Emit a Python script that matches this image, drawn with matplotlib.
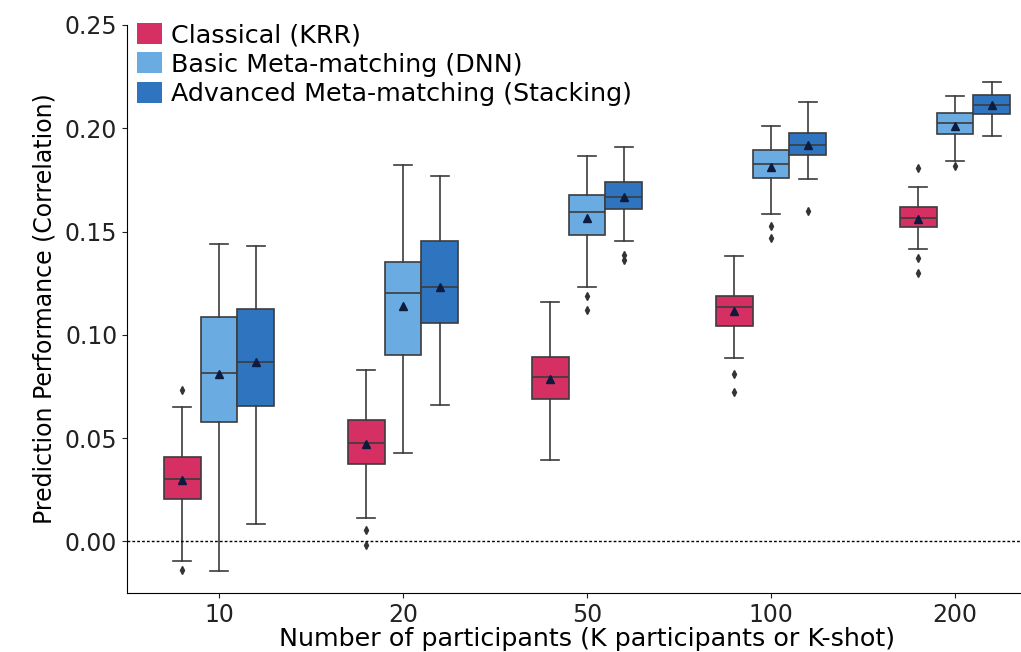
import numpy as np
import matplotlib
matplotlib.use("Agg")
import matplotlib.pyplot as plt
from matplotlib.patches import Patch

# x groups
groups = ["10", "20", "50", "100", "200"]
methods = ["Classical (KRR)", "Basic Meta-matching (DNN)", "Advanced Meta-matching (Stacking)"]
colors = ["#d52f63", "#6aabe2", "#2f74bf"]

# box stats: [whislo, q1, med, q3, whishi], mean, fliers
krr_stats = [[-0.0097, 0.0205, 0.0300, 0.0407, 0.0649],
             [0.0111, 0.0376, 0.0475, 0.0586, 0.0828],
             [0.0396, 0.0691, 0.0796, 0.0891, 0.1157],
             [0.0888, 0.1042, 0.1135, 0.1190, 0.1381],
             [0.1413, 0.1521, 0.1565, 0.1617, 0.1717]]
krr_mean = [0.0296, 0.0473, 0.0786, 0.1116, 0.1563]
krr_fliers = [[0.0732, -0.0141], [0.0053, -0.0019], [], [0.0812, 0.0723], [0.1806, 0.1373, 0.1300]]

dnn_stats = [[-0.0142, 0.0577, 0.0817, 0.1084, 0.1442],
             [0.0430, 0.0900, 0.1203, 0.1353, 0.1822],
             [0.1231, 0.1481, 0.1596, 0.1675, 0.1864],
             [0.1586, 0.1757, 0.1825, 0.1893, 0.2012],
             [0.1841, 0.1973, 0.2027, 0.2072, 0.2156]]
dnn_mean = [0.0809, 0.1139, 0.1566, 0.1813, 0.2011]
dnn_fliers = [[], [], [0.1190, 0.1122], [0.1528, 0.1471], [0.1817]]

stack_stats = [[0.0084, 0.0654, 0.0866, 0.1126, 0.1431],
               [0.0659, 0.1058, 0.1232, 0.1455, 0.1770],
               [0.1456, 0.1610, 0.1668, 0.1741, 0.1907],
               [0.1752, 0.1872, 0.1920, 0.1978, 0.2128],
               [0.1961, 0.2069, 0.2112, 0.2161, 0.2225]]
stack_mean = [0.0866, 0.1231, 0.1668, 0.1919, 0.2112]
stack_fliers = [[], [], [0.1386, 0.1361], [0.1599], []]

all_stats = [krr_stats, dnn_stats, stack_stats]
all_means = [krr_mean, dnn_mean, stack_mean]
all_fliers = [krr_fliers, dnn_fliers, stack_fliers]

fig = plt.figure(figsize=(10.21, 6.52), dpi=100)
# axes runs a little past the right edge of the figure, as in the cropped original
ax = fig.add_axes([0.1244, 0.0905, 0.901, 0.8712])

edge = "#3c3c3c"
offsets = [-0.2, 0.0, 0.2]
for m in range(3):
    bxp = []
    for g in range(len(groups)):
        lo, q1, med, q3, hi = all_stats[m][g]
        bxp.append(dict(whislo=lo, q1=q1, med=med, q3=q3, whishi=hi,
                        mean=all_means[m][g], fliers=all_fliers[m][g]))
    pos = np.arange(len(groups)) + offsets[m]
    ax.bxp(bxp, positions=pos, widths=0.2, patch_artist=True, showmeans=True,
           boxprops=dict(facecolor=colors[m], edgecolor=edge, linewidth=1.2),
           whiskerprops=dict(color=edge, linewidth=1.2),
           capprops=dict(color=edge, linewidth=1.2),
           medianprops=dict(color=edge, linewidth=1.2),
           meanprops=dict(marker="^", markerfacecolor="#0d1b3e", markeredgecolor="#0d1b3e", markersize=6),
           flierprops=dict(marker="d", markerfacecolor="#333333", markeredgecolor="#333333", markersize=4),
           manage_ticks=False)

ax.axhline(0, color="black", linestyle=(0, (2, 1.5)), linewidth=1)

ax.set_xlim(-0.5, 4.5)
ax.set_ylim(-0.025, 0.25)
ax.set_xticks(np.arange(len(groups)))
ax.set_xticklabels(groups)
ax.set_yticks([0, 0.05, 0.10, 0.15, 0.20, 0.25])
ax.set_yticklabels(["0.00", "0.05", "0.10", "0.15", "0.20", "0.25"])
ax.tick_params(labelsize=17, colors="#222222")
ax.spines["top"].set_visible(False)
ax.spines["right"].set_visible(False)
ax.set_xlabel("Number of participants (K participants or K-shot)", fontsize=18.3, labelpad=0)
ax.set_ylabel("Prediction Performance (Correlation)", fontsize=17, labelpad=6)

handles = [Patch(facecolor=c, edgecolor="none") for c in colors]
ax.legend(handles, methods, loc="upper left", bbox_to_anchor=(-0.009, 1.035), frameon=False,
          fontsize=18.3, handlelength=1.0, handleheight=0.9, handletextpad=0.35, labelspacing=0.2,
          borderaxespad=0.3)

fig.savefig("out.png", dpi=100)
